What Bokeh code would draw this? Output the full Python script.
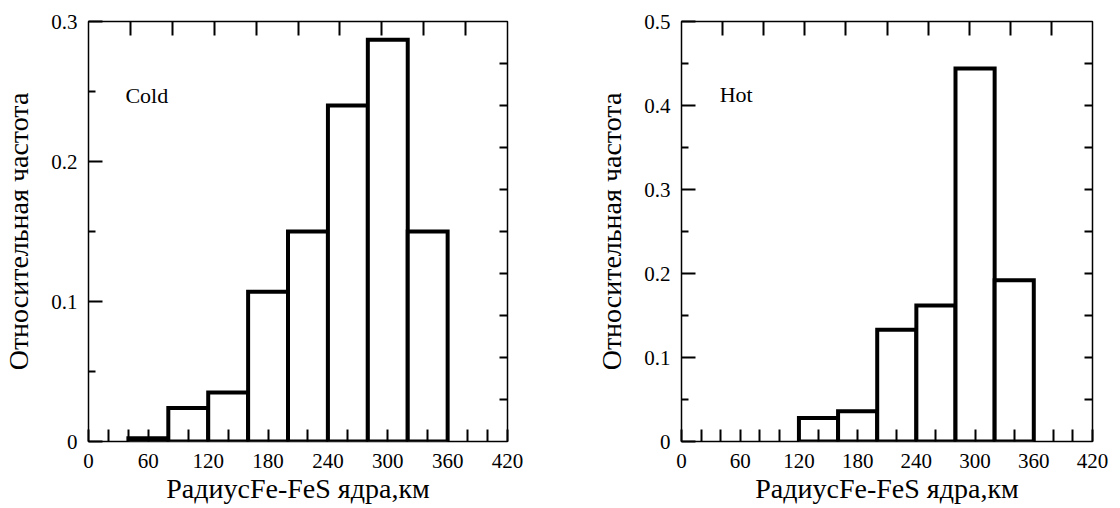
from bokeh.plotting import figure
from bokeh.models import FixedTicker, LinearAxis, Range1d, Label
from bokeh.layouts import row
from bokeh.embed import file_html
from bokeh.resources import INLINE

# ---- data ----
cold_left = [40, 80, 120, 160, 200, 240, 280, 320]
cold_right = [80, 120, 160, 200, 240, 280, 320, 360]
cold_freq = [0.0024, 0.024, 0.035, 0.107, 0.150, 0.240, 0.287, 0.150]

hot_left = [120, 160, 200, 240, 280, 320]
hot_right = [160, 200, 240, 280, 320, 360]
hot_freq = [0.028, 0.036, 0.133, 0.162, 0.444, 0.192]

x_tick_values = [0, 60, 120, 180, 240, 300, 360, 420]
x_minor_values = [20, 40, 80, 100, 140, 160, 200, 220, 260, 280, 320, 340, 380, 400]
top_tick_values = [42, 84, 126, 168, 210, 252, 294, 336, 378]

cold_y_ticks = [0, 0.1, 0.2, 0.3]
cold_y_labels = ["0", "0.1", "0.2", "0.3"]
cold_y_minor = [0.05, 0.15, 0.25]
cold_right_ticks = [0.03, 0.06, 0.09, 0.12, 0.15, 0.18, 0.21, 0.24, 0.27]

hot_y_ticks = [0, 0.1, 0.2, 0.3, 0.4, 0.5]
hot_y_labels = ["0", "0.1", "0.2", "0.3", "0.4", "0.5"]
hot_y_minor = [0.05, 0.15, 0.25, 0.35, 0.45]
hot_right_ticks = [0.05, 0.1, 0.15, 0.2, 0.25, 0.3, 0.35, 0.4, 0.45]

x_title = "РадиусFe-FeS ядра,км"
y_title = "Относительная частота"

FONT = "Liberation Serif"


def make(lefts, rights, freqs, ymax, yt, ylab, yminor, rticks, tag, tag_x, tag_y,
         width, mbl, mbr, mbb):
    p = figure(width=width, height=506, output_backend="svg", toolbar_location=None,
               x_range=Range1d(0, 420), y_range=Range1d(0, ymax),
               min_border_left=mbl, min_border_right=mbr, min_border_top=21,
               min_border_bottom=mbb, background_fill_color="white",
               border_fill_color="white")
    p.xgrid.visible = False
    p.ygrid.visible = False
    p.outline_line_color = "black"
    p.outline_line_width = 1.5

    p.quad(left=lefts, right=rights, bottom=0, top=freqs, fill_color="white",
           line_color="black", line_width=4, line_join="miter")

    xa = p.xaxis[0]
    xa.ticker = FixedTicker(ticks=x_tick_values, minor_ticks=x_minor_values)
    xa.axis_line_color = None
    xa.major_tick_in = 12
    xa.major_tick_out = 0
    xa.minor_tick_in = 12
    xa.minor_tick_out = 0
    xa.major_tick_line_width = 2
    xa.minor_tick_line_width = 2
    xa.major_tick_line_color = "black"
    xa.minor_tick_line_color = "black"
    xa.major_label_text_font = FONT
    xa.major_label_text_font_size = "21px"
    xa.major_label_text_color = "black"
    xa.major_label_standoff = 12
    xa.axis_label = x_title
    xa.axis_label_text_font = FONT
    xa.axis_label_text_font_size = "28px"
    xa.axis_label_text_font_style = "normal"
    xa.axis_label_text_color = "black"
    xa.axis_label_standoff = 2

    ya = p.yaxis[0]
    ya.ticker = FixedTicker(ticks=yt, minor_ticks=yminor)
    ya.major_label_overrides = {v: s for v, s in zip(yt, ylab)}
    ya.axis_line_color = None
    ya.major_tick_in = 14
    ya.major_tick_out = 0
    ya.minor_tick_in = 7
    ya.minor_tick_out = 0
    ya.major_tick_line_width = 2
    ya.minor_tick_line_width = 2
    ya.major_tick_line_color = "black"
    ya.minor_tick_line_color = "black"
    ya.major_label_text_font = FONT
    ya.major_label_text_font_size = "21px"
    ya.major_label_text_color = "black"
    ya.major_label_standoff = 11
    ya.axis_label = y_title
    ya.axis_label_text_font = FONT
    ya.axis_label_text_font_size = "28px"
    ya.axis_label_text_font_style = "normal"
    ya.axis_label_text_color = "black"
    ya.axis_label_standoff = 14

    top = LinearAxis(ticker=FixedTicker(ticks=top_tick_values, minor_ticks=[]))
    top.axis_line_color = None
    top.major_tick_in = 14
    top.major_tick_out = 0
    top.major_tick_line_width = 2
    top.major_label_text_font_size = "0px"
    top.major_label_standoff = 0
    top.major_label_text_color = None
    p.add_layout(top, "above")

    right = LinearAxis(ticker=FixedTicker(ticks=rticks, minor_ticks=[]))
    right.axis_line_color = None
    right.major_tick_in = 8
    right.major_tick_out = 0
    right.major_tick_line_width = 2
    right.major_label_text_font_size = "0px"
    right.major_label_standoff = 0
    right.major_label_text_color = None
    p.add_layout(right, "right")

    p.add_layout(Label(x=tag_x, y=tag_y, text=tag, text_font=FONT,
                       text_font_size="22px", text_color="black",
                       text_baseline="alphabetic"))
    return p


p1 = make(cold_left, cold_right, cold_freq, 0.3, cold_y_ticks, cold_y_labels,
          cold_y_minor, cold_right_ticks, "Cold", 37, 0.247, 547, 85, 40, 64)
p2 = make(hot_left, hot_right, hot_freq, 0.5, hot_y_ticks, hot_y_labels,
          hot_y_minor, hot_right_ticks, "Hot", 39, 0.413, 563, 134, 18, 60)

p = row(p1, p2)
open("out.html", "w").write(file_html(p, INLINE))
